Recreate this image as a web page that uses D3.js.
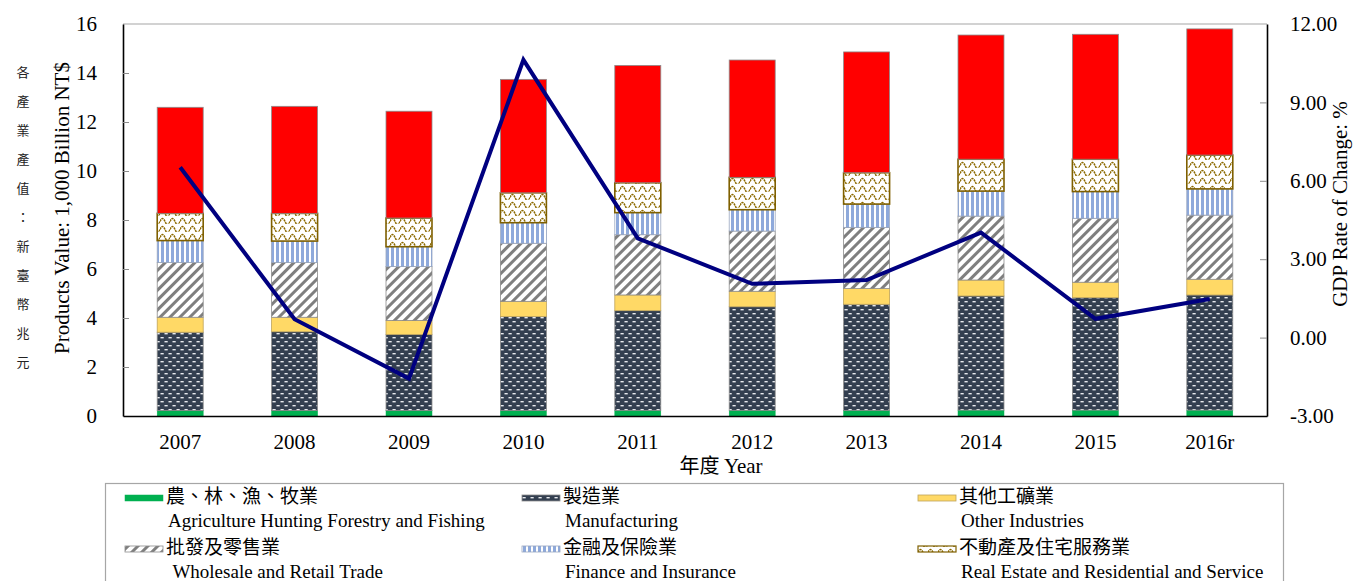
<!DOCTYPE html>
<html><head><meta charset="utf-8">
<script src="https://cdn.jsdelivr.net/npm/d3@7/dist/d3.min.js"></script>
<style>body{margin:0;background:#fff}svg{display:block}</style>
</head><body>
<svg id="c" width="1353" height="581"></svg>
<script>
// ---- data ----
const years = ["2007","2008","2009","2010","2011","2012","2013","2014","2015","2016r"];
const agriculture   = [0.22,0.22,0.22,0.22,0.23,0.23,0.23,0.24,0.24,0.24];
const manufacturing = [3.20,3.22,3.11,3.84,4.07,4.23,4.33,4.66,4.59,4.70];
const otherInd      = [0.61,0.59,0.57,0.62,0.64,0.63,0.64,0.65,0.63,0.64];
const wholesale     = [2.24,2.24,2.20,2.37,2.46,2.46,2.50,2.61,2.61,2.62];
const finance       = [0.89,0.87,0.81,0.84,0.90,0.87,0.95,1.02,1.09,1.07];
const realEstate    = [1.11,1.13,1.17,1.22,1.22,1.32,1.28,1.30,1.32,1.38];
const otherServices = [4.33,4.37,4.36,4.63,4.79,4.79,4.93,5.07,5.10,5.15];
const gdpRate       = [6.52,0.70,-1.57,10.63,3.80,2.06,2.20,4.02,0.72,1.48];
const leftTicks  = [0,2,4,6,8,10,12,14,16];
const rightTicks = [-3,0,3,6,9,12];
const seriesKeys = ["agri","manu","other","whole","fin","re","svc"];
const legendItems = [
  {key:"agri", cn:"農、林、漁、牧業", en:"Agriculture Hunting Forestry and Fishing"},
  {key:"manu", cn:"製造業", en:"Manufacturing"},
  {key:"other", cn:"其他工礦業", en:"Other Industries"},
  {key:"whole", cn:"批發及零售業", en:" Wholesale and Retail Trade"},
  {key:"fin", cn:"金融及保險業", en:"Finance and Insurance"},
  {key:"re", cn:"不動產及住宅服務業", en:"Real Estate and Residential and Service"}
];
const leftTitleCN = "各產業產值：新臺幣兆元";

// ---- layout ----
const serif = "'Liberation Serif','Times New Roman',serif";
const cjk = "'Noto Sans CJK TC','Noto Sans CJK SC',sans-serif";
const P = {l:123, r:1267, t:24, b:416};
const svg = d3.select("#c");

const rows = years.map((y,i)=>({year:y, agri:agriculture[i], manu:manufacturing[i], other:otherInd[i],
  whole:wholesale[i], fin:finance[i], re:realEstate[i], svc:otherServices[i]}));
const x = d3.scaleBand().domain(years).range([P.l,P.r]).paddingInner(0.598).paddingOuter(0.299);
const y = d3.scaleLinear().domain([0,16]).range([P.b,P.t]);
const yR = d3.scaleLinear().domain([-3,12]).range([P.b,P.t]);

// ---- patterns ----
const defs = svg.append("defs");
let p = defs.append("pattern").attr("id","pManu").attr("patternUnits","userSpaceOnUse").attr("width",8).attr("height",8);
p.append("rect").attr("width",8).attr("height",8).attr("fill","#333F50");
p.append("rect").attr("x",0.5).attr("y",1).attr("width",3.2).attr("height",1.4).attr("fill","#e8eaee");
p.append("rect").attr("x",4.5).attr("y",5).attr("width",3.2).attr("height",1.4).attr("fill","#e8eaee");

p = defs.append("pattern").attr("id","pWhole").attr("patternUnits","userSpaceOnUse").attr("width",7).attr("height",7).attr("patternTransform","rotate(45)");
p.append("rect").attr("width",7).attr("height",7).attr("fill","#fff");
p.append("rect").attr("width",3).attr("height",7).attr("fill","#7f7f7f");

p = defs.append("pattern").attr("id","pFin").attr("patternUnits","userSpaceOnUse").attr("width",5).attr("height",5);
p.append("rect").attr("width",5).attr("height",5).attr("fill","#fff");
p.append("rect").attr("x",1).attr("width",3).attr("height",5).attr("fill","#8EA9DB");

p = defs.append("pattern").attr("id","pRE").attr("patternUnits","userSpaceOnUse").attr("width",10).attr("height",8);
p.append("rect").attr("width",10).attr("height",8).attr("fill","#fff");
p.append("path").attr("d","M0,5.5 Q2.5,-0.5 5,5.5 T10,5.5").attr("fill","none").attr("stroke","#8C6A00").attr("stroke-width",1.5).attr("stroke-dasharray","2.2 0.7");

const fills = {agri:"#00B050", manu:"url(#pManu)", other:"#FFD966", whole:"url(#pWhole)", fin:"url(#pFin)", re:"url(#pRE)", svc:"#FF0000"};
const strokes = {agri:"#00B050", manu:"#8c8c8c", other:"#BFA45A", whole:"#8c8c8c", fin:"#9aa7c0", re:"#7F6000", svc:"#8c8c8c"};
const strokeW = {agri:0.5, manu:0.8, other:0.8, whole:0.8, fin:0.8, re:1.6, svc:0.8};

// ---- frame ----
svg.append("line").attr("x1",P.l).attr("x2",P.r).attr("y1",P.t).attr("y2",P.t).attr("stroke","#a6a6a6").attr("stroke-width",1.2);

// ---- bars ----
const stack = d3.stack().keys(seriesKeys)(rows);
svg.append("g").selectAll("g").data(stack).join("g")
  .each(function(s){
    d3.select(this).selectAll("rect").data(s).join("rect")
      .attr("x", d=>x(d.data.year)).attr("width", x.bandwidth())
      .attr("y", d=>y(d[1])).attr("height", d=>y(d[0])-y(d[1]))
      .attr("fill", fills[s.key]).attr("stroke", strokes[s.key]).attr("stroke-width", strokeW[s.key]);
  });

// ---- axes ----
const fmtR = d => d3.format(".2f")(d).replace("\u2212","-");
const axL = svg.append("g").attr("transform",`translate(${P.l},0)`)
  .call(d3.axisLeft(y).tickValues(leftTicks).tickSizeInner(-6).tickSizeOuter(0).tickPadding(26).tickFormat(d3.format("d")));
const axR = svg.append("g").attr("transform",`translate(${P.r},0)`)
  .call(d3.axisRight(yR).tickValues(rightTicks).tickSizeInner(-7).tickSizeOuter(0).tickPadding(23).tickFormat(fmtR));
const axB = svg.append("g").attr("transform",`translate(0,${P.b})`)
  .call(d3.axisBottom(x).tickSize(0).tickSizeOuter(0).tickPadding(18));
[axL,axR,axB].forEach(a=>{
  a.select(".domain").attr("stroke","#000").attr("stroke-width",1.6);
  a.selectAll(".tick line").attr("stroke","#8c8c8c");
  a.selectAll("text").attr("font-family",serif).attr("font-size",21).attr("fill","#000");
});
axL.selectAll(".tick").filter(d=>d===0||d===16).select("line").remove();
axR.selectAll(".tick").filter(d=>d===-3||d===12).select("line").remove();

// ---- GDP line ----
svg.append("path").datum(gdpRate)
  .attr("d", d3.line().x((d,i)=>x(years[i])+x.bandwidth()/2).y(d=>yR(d)))
  .attr("fill","none").attr("stroke","#000080").attr("stroke-width",4);

// ---- titles ----
svg.append("text").attr("transform","translate(69,208) rotate(-90)").attr("text-anchor","middle")
  .attr("font-family",serif).attr("font-size",21).text("Products Value: 1,000 Billion NT$");
svg.append("text").attr("transform","translate(1347,204) rotate(-90)").attr("text-anchor","middle")
  .attr("font-family",serif).attr("font-size",21).text("GDP Rate of Change: %");
svg.append("g").selectAll("text").data(Array.from(leftTitleCN)).join("text")
  .attr("x",23).attr("y",(d,i)=>77+i*29).attr("text-anchor","middle")
  .attr("font-family",cjk).attr("font-size",13).attr("fill","#222").text(d=>d);
const xt = svg.append("text").attr("x",721).attr("y",473).attr("text-anchor","middle").attr("font-size",21);
xt.append("tspan").attr("font-family",cjk).attr("font-size",20).text("年度 ");
xt.append("tspan").attr("font-family",serif).text("Year");

// ---- legend ----
svg.append("rect").attr("x",105.5).attr("y",483.5).attr("width",1178).attr("height",120)
  .attr("fill","none").attr("stroke","#a6a6a6").attr("stroke-width",1.2);
const colX = [125,522,918], rowY = [496,547];
const lg = svg.append("g").selectAll("g").data(legendItems).join("g")
  .attr("transform",(d,i)=>`translate(${colX[i%3]},${rowY[Math.floor(i/3)]})`);
lg.append("rect").attr("x",0).attr("y",-1).attr("width",38).attr("height",6)
  .attr("fill",d=>fills[d.key]).attr("stroke",d=>strokes[d.key]).attr("stroke-width",d=>Math.min(strokeW[d.key],1.2));
lg.append("text").attr("x",41).attr("y",7).attr("font-family",cjk).attr("font-size",19).text(d=>d.cn);
lg.append("text").attr("x",43).attr("y",31).attr("font-family",serif).attr("font-size",19).attr("xml:space","preserve").style("white-space","pre").text(d=>d.en);
</script>
</body></html>
